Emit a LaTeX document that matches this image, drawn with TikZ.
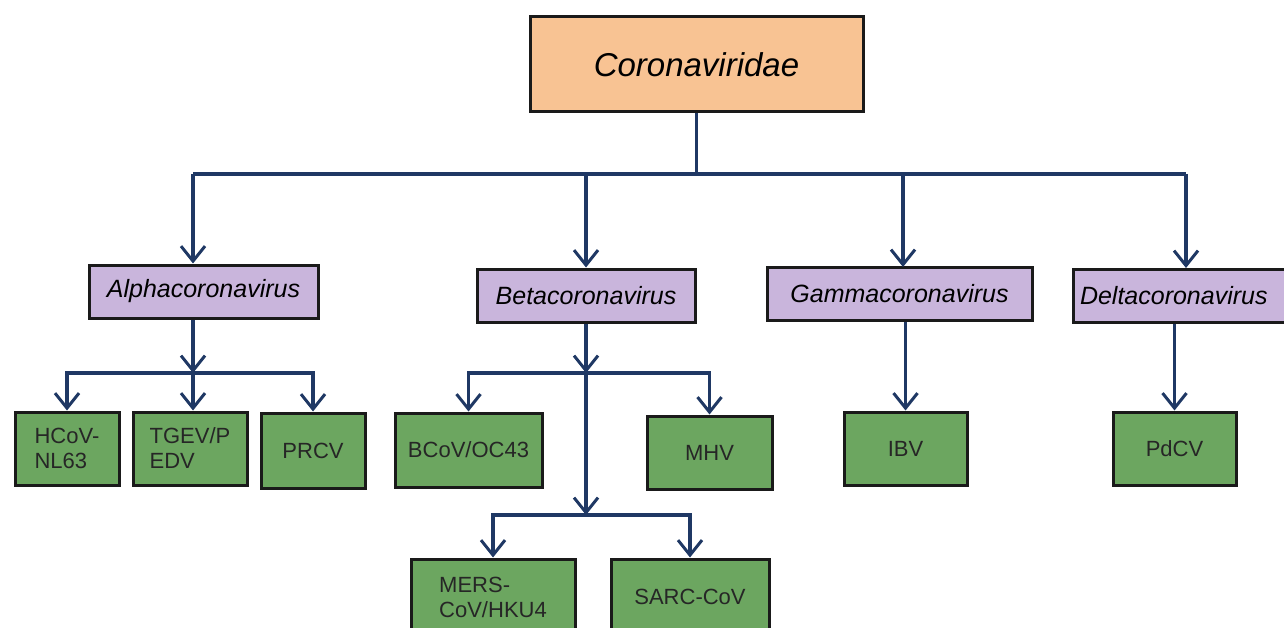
\documentclass[tikz,border=0pt]{standalone}
\usepackage{fontspec}
\setmainfont{Liberation Sans}
\usetikzlibrary{arrows.meta}
\definecolor{famfill}{HTML}{F8C393}
\definecolor{genfill}{HTML}{C9B5DC}
\definecolor{spfill}{HTML}{6CA660}
\definecolor{linkc}{HTML}{1F3864}
\definecolor{edgec}{HTML}{1A1A1A}
\tikzset{
  famnode/.style={draw=edgec, line width=3pt, fill=famfill, minimum width=333pt, minimum height=95pt, inner sep=0pt, font=\fontsize{33}{38}\selectfont\itshape},
  gennode/.style={draw=edgec, line width=3pt, fill=genfill, minimum height=53pt, inner sep=0pt, font=\fontsize{25}{29}\selectfont\itshape},
  spnode/.style={draw=edgec, line width=3pt, fill=spfill, inner sep=0pt, align=left, text=black!85, font=\fontsize{22}{25}\selectfont},
  link/.style={draw=linkc, line width=3.2pt},
  arr/.style={link, -{Straight Barb[length=15pt,width=24pt,line width=3pt]}}
}
\begin{document}
\begin{tikzpicture}[x=1pt,y=-1pt]
\useasboundingbox (0,0) rectangle (1284,628);
\clip (0,0) rectangle (1284,628);
% family
\node[famnode] (top) at (696.5,64.5) {Coronaviridae};
% genera
\node[gennode, minimum width=229pt] (alpha) at (203.5,291.5) {Alphacoronavirus};
\node[gennode, minimum width=218pt] (beta) at (586,295.5) {Betacoronavirus};
\node[gennode, minimum width=265pt] (gamma) at (899.5,293.5) {Gammacoronavirus};
\node[gennode, minimum width=222pt, text width=208pt, align=left] (delta) at (1184,296) {Deltacoronavirus};
% species
\node[spnode, minimum width=104pt, minimum height=73pt] (hcov) at (67,448.5) {HCoV-\\NL63};
\node[spnode, minimum width=114pt, minimum height=73pt] (tgev) at (190,448.5) {TGEV/P\\EDV};
\node[spnode, minimum width=104pt, minimum height=75pt] (prcv) at (313,450.5) {PRCV};
\node[spnode, minimum width=147pt, minimum height=74pt] (bcov) at (468.5,450) {BCoV/OC43};
\node[spnode, minimum width=125pt, minimum height=73pt] (mhv) at (709.5,452.5) {MHV};
\node[spnode, minimum width=123pt, minimum height=73pt] (ibv) at (905.5,448.5) {IBV};
\node[spnode, minimum width=123pt, minimum height=73pt] (pdcv) at (1174.5,448.5) {PdCV};
\node[spnode, minimum width=164pt, minimum height=76pt] (mers) at (493,597) {MERS-\\CoV/HKU4};
\node[spnode, minimum width=158pt, minimum height=76pt] (sarc) at (690,597) {SARC-CoV};
% junctions
\coordinate (busL) at (193,174);
\coordinate (busR) at (1186,174);
\coordinate (aJ) at (193,373);
\coordinate (bJ) at (586,373);
\coordinate (bJ2) at (586,515);
% family to genera
\draw[link] (top.south) -- (top.south |- busL);
\draw[link] (busL) -- (busR);
\draw[arr] (busL) -- (busL |- alpha.north);
\draw[arr] (beta.north |- busL) -- (beta.north);
\draw[arr] (903,174) -- (903,267);
\draw[arr] (busR) -- (busR |- delta.north);
% alpha
\draw[arr] (aJ |- alpha.south) -- (aJ);
\draw[arr] (aJ) -| (hcov.north);
\draw[arr] (aJ) -- (aJ |- tgev.north);
\draw[arr] (aJ) -| (prcv.north);
% beta
\draw[arr] (beta.south) -- (bJ);
\draw[arr] (bJ) -| (bcov.north);
\draw[arr] (bJ) -| (mhv.north);
\draw[arr] (bJ) -- (bJ2);
\draw[arr] (bJ2) -| (mers.north);
\draw[arr] (bJ2) -| (sarc.north);
% gamma, delta
\draw[arr] (gamma.south -| ibv.north) -- (ibv.north);
\draw[arr] (pdcv.north |- delta.south) -- (pdcv.north);
\end{tikzpicture}
\end{document}
